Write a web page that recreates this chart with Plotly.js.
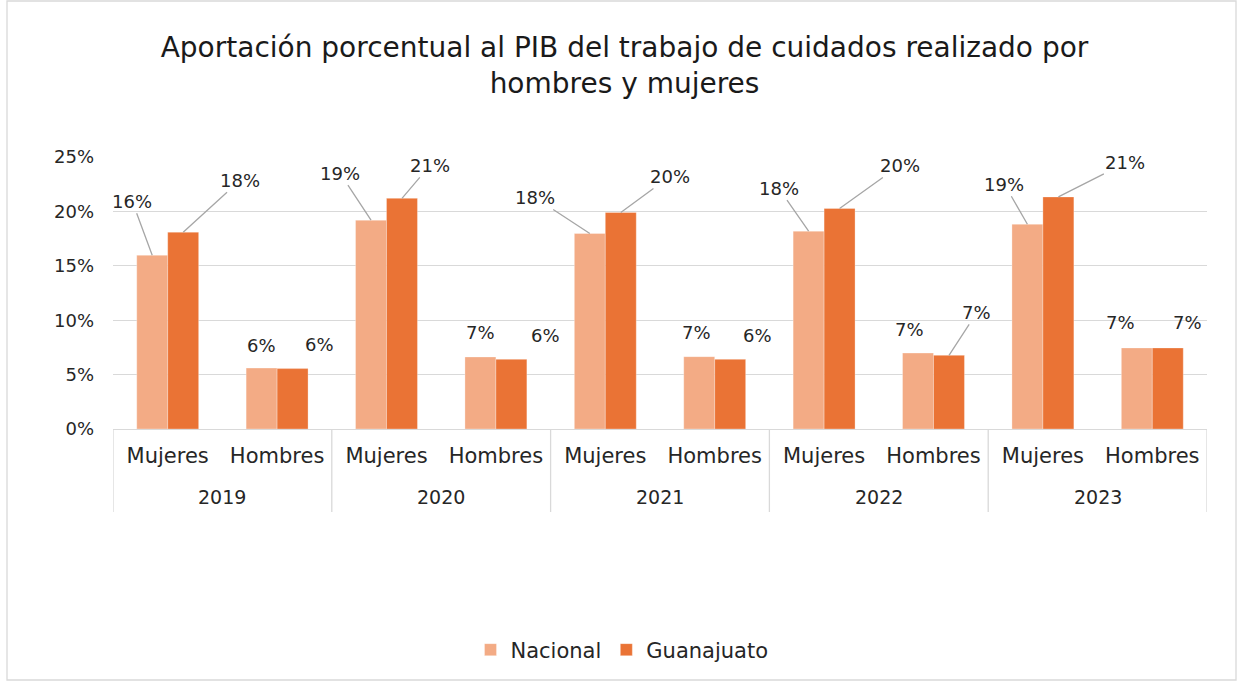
<!DOCTYPE html>
<html>
<head>
<meta charset="utf-8">
<script src="https://cdn.plot.ly/plotly-3.0.1.min.js"></script>
<style>html,body{margin:0;padding:0;background:#fff;}#chart{width:1239px;height:683px;}</style>
</head>
<body>
<div id="chart"></div>
<script>
// ---- data ----
var years = ["2019", "2020", "2021", "2022", "2023"];
var sexes = ["Mujeres", "Hombres"];
var seriesNames = ["Nacional", "Guanajuato"];
var nacional   = [15.97, 5.6, 19.19, 6.62, 17.97, 6.65, 18.18, 6.98, 18.82, 7.45];
var guanajuato = [18.09, 5.55, 21.2, 6.4, 19.9, 6.4, 20.27, 6.77, 21.33, 7.45];
var yTicks = [0, 5, 10, 15, 20, 25];

// ---- layout constants ----
var FONT = "DejaVu Sans, sans-serif";
var TXT = "#262626";
var colors = ["#F3AB85", "#EA7335"];
var W = 1239, H = 683;
var M = {l: 113, r: 32, t: 157, b: 254};
var plotH = H - M.t - M.b, plotW = W - M.l - M.r;
var base = M.t + plotH; // pixel row of the x axis
var bargap = 0.434;
var half = (1 - bargap) / 4; // center offset of each bar within a category

var cats = [], idx = [];
years.forEach(function (y) { sexes.forEach(function (s) { cats.push(s); idx.push(cats.length - 1); }); });

var traces = [nacional, guanajuato].map(function (vals, k) {
  return {
    type: "bar", name: seriesNames[k], x: idx, y: vals,
    marker: {color: colors[k], line: {color: "rgba(255,255,255,0.5)", width: 0.6}},
    hoverinfo: "none"
  };
});

// label offsets (pixels) [dx, dy, line]
var offN = [[-20,-54,1],[0,-23,0],[-31,-47,1],[0,-24,0],[-55,-36,1],[-3,-24,0],[-30,-43,1],[-9,-24,0],[-23,-40,1],[-16,-25,0]];
var offG = [[57,-52,1],[27,-24,0],[28,-33,1],[34,-24,0],[49,-36,1],[27,-24,0],[60,-43,1],[28,-43,1],[67,-34,1],[20,-25,0]];

var annotations = [];
function addLabels(vals, offs, sign) {
  vals.forEach(function (v, i) {
    var o = offs[i];
    var a = {
      x: idx[i] + sign * half, y: v, xref: "x", yref: "y",
      text: Math.round(v) + "%",
      font: {family: FONT, size: 18, color: TXT}
    };
    if (o[2]) {
      a.showarrow = true; a.arrowhead = 0; a.arrowwidth = 1.3; a.arrowcolor = "#A6A6A6";
      a.ax = o[0]; a.ay = o[1]; a.standoff = 0; a.startstandoff = 0;
    } else {
      a.showarrow = false; a.xshift = o[0]; a.yshift = -o[1];
    }
    annotations.push(a);
  });
}
addLabels(nacional, offN, -1);
addLabels(guanajuato, offG, 1);

var divBottom = -(512 - base) / plotH;
years.forEach(function (y, g) {
  annotations.push({
    x: g * 2 + 0.5, xref: "x", y: -(497 - base) / plotH, yref: "paper",
    text: y, showarrow: false, yanchor: "middle",
    font: {family: FONT, size: 19, color: TXT}
  });
});

var shapes = [];
for (var g = 0; g <= years.length; g++) {
  shapes.push({type: "line", xref: "x", yref: "paper", x0: g * 2 - 0.5, x1: g * 2 - 0.5,
    y0: 0, y1: divBottom, line: {color: "#D9D9D9", width: 1.3}});
}
// outer chart border
shapes.push({type: "rect", xref: "paper", yref: "paper",
  x0: (7 - M.l) / plotW, x1: (1236 - M.l) / plotW,
  y0: (base - 680) / plotH, y1: (base - 1) / plotH,
  line: {color: "#D9D9D9", width: 1.3}, fillcolor: "rgba(0,0,0,0)", layer: "below"});

var layout = {
  width: W, height: H,
  margin: M,
  paper_bgcolor: "#fff", plot_bgcolor: "#fff",
  font: {family: FONT, color: TXT, size: 19},
  title: {
    text: "Aportación porcentual al PIB del trabajo de cuidados realizado por<br>hombres y mujeres",
    font: {family: FONT, size: 28, color: "#1a1a1a"},
    x: 624.5 / W, xref: "container", xanchor: "center",
    y: 1 - 57 / H, yref: "container", yanchor: "middle"
  },
  barmode: "group", bargap: bargap, bargroupgap: 0,
  showlegend: true,
  legend: {orientation: "h", x: (622 - M.l) / plotW, xanchor: "center", y: -(650 - base) / plotH, yanchor: "middle",
    font: {family: FONT, size: 21, color: TXT}, itemwidth: 30, traceorder: "normal"},
  xaxis: {
    range: [-0.5, idx.length - 0.5], tickvals: idx, ticktext: cats,
    showgrid: false, zeroline: false, showline: true, linecolor: "#D9D9D9", linewidth: 1.3,
    ticks: "", tickfont: {family: FONT, size: 21, color: TXT}, ticklabelstandoff: 7, fixedrange: true
  },
  yaxis: {
    range: [0, 25], tickvals: yTicks, ticktext: yTicks.map(function (t) { return t + "%"; }),
    showgrid: true, gridcolor: "#D9D9D9", gridwidth: 1.3, zeroline: false, showline: false,
    ticks: "", tickfont: {family: FONT, size: 18, color: TXT}, ticklabelstandoff: 18, fixedrange: true
  },
  annotations: annotations,
  shapes: shapes
};

Plotly.newPlot("chart", traces, layout, {displayModeBar: false, staticPlot: true});
</script>
</body>
</html>
